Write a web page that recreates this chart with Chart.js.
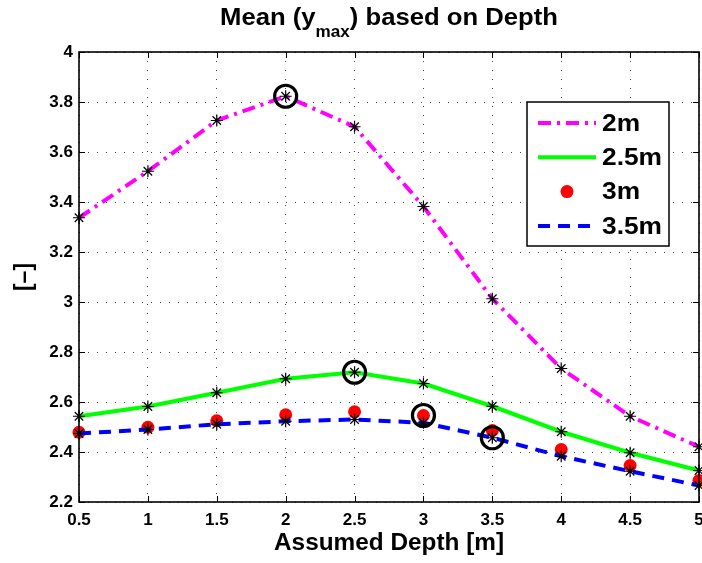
<!DOCTYPE html>
<html>
<head>
<meta charset="utf-8">
<title>Mean (ymax) based on Depth</title>
<script src="https://cdn.jsdelivr.net/npm/chart.js@4.4.0/dist/chart.umd.min.js"></script>
<style>
    html, body { margin: 0; padding: 0; background: #fff; }
    #wrap { width: 702px; height: 563px; }
</style>
</head>
<body>
<div id="wrap"><canvas id="depthChart" width="702" height="563"></canvas></div>
<script>
// values
const depths = [0.5, 1, 1.5, 2, 2.5, 3, 3.5, 4, 4.5, 5];
const mean2m = [3.337, 3.523, 3.726, 3.823, 3.701, 3.382, 3.013, 2.734, 2.543, 2.421];
const mean25m = [2.543, 2.582, 2.637, 2.693, 2.719, 2.674, 2.583, 2.481, 2.397, 2.326];
const mean3m = [2.479, 2.499, 2.525, 2.549, 2.561, 2.546, 2.486, 2.410, 2.346, 2.286];
const mean35m = [2.474, 2.490, 2.511, 2.523, 2.530, 2.517, 2.457, 2.383, 2.323, 2.266];
const seriesNames = ['2m', '2.5m', '3m', '3.5m'];
const circledIndex = [3, 4, 5, 6]; // black ring on one point of each series
const xTicks = [0.5, 1, 1.5, 2, 2.5, 3, 3.5, 4, 4.5, 5];
const yTicks = [2.2, 2.4, 2.6, 2.8, 3, 3.2, 3.4, 3.6, 3.8, 4];

const FONT = "'Liberation Sans', Arial, Helvetica, sans-serif";
const allSeries = [mean2m, mean25m, mean3m, mean35m];
const pts = arr => depths.map((d, i) => ({ x: d, y: arr[i] }));

// draw text squeezed/stretched to a given width
function fitText(ctx, txt, x, y, w) {
    const m = ctx.measureText(txt).width;
    ctx.save();
    ctx.translate(x, y);
    ctx.scale(w / m, 1);
    ctx.fillText(txt, 0, 0);
    ctx.restore();
}

const matlabLook = {
    id: 'matlabLook',
    afterDraw(chart) {
        const ctx = chart.ctx;
        const a = chart.chartArea;
        const xs = chart.scales.x, ys = chart.scales.y;
        ctx.save();

        // inward tick marks on all four sides
        ctx.strokeStyle = '#000';
        ctx.lineWidth = 1;
        ctx.beginPath();
        xs.ticks.forEach(t => {
            const px = Math.round(xs.getPixelForValue(t.value)) + 0.5;
            ctx.moveTo(px, a.bottom); ctx.lineTo(px, a.bottom - 6);
            ctx.moveTo(px, a.top); ctx.lineTo(px, a.top + 6);
        });
        ys.ticks.forEach(t => {
            const py = Math.round(ys.getPixelForValue(t.value)) + 0.5;
            ctx.moveTo(a.left, py); ctx.lineTo(a.left + 6, py);
            ctx.moveTo(a.right, py); ctx.lineTo(a.right - 6, py);
        });
        ctx.stroke();

        // box
        ctx.lineWidth = 1.6;
        ctx.strokeRect(a.left, a.top, a.right - a.left, a.bottom - a.top);

        // title with subscript
        ctx.fillStyle = '#000';
        ctx.textBaseline = 'alphabetic';
        ctx.textAlign = 'left';
        const t1 = 'Mean (y', t2 = 'max', t3 = ') based on Depth';
        ctx.font = 'bold 24px ' + FONT;
        const w1 = ctx.measureText(t1).width, w3 = ctx.measureText(t3).width;
        ctx.font = 'bold 16px ' + FONT;
        const w2 = ctx.measureText(t2).width;
        const k = 338 / (w1 + w2 + w3);
        const cx = (a.left + a.right) / 2;
        ctx.save();
        ctx.translate(cx - 169, 0);
        ctx.scale(k, 1);
        ctx.font = 'bold 24px ' + FONT;
        ctx.fillText(t1, 0, 25);
        ctx.fillText(t3, w1 + w2, 25);
        ctx.font = 'bold 16px ' + FONT;
        ctx.fillText(t2, w1, 37);
        ctx.restore();

        // axis titles
        ctx.font = 'bold 23px ' + FONT;
        fitText(ctx, 'Assumed Depth [m]', cx - 115, 550, 230);
        ctx.save();
        ctx.translate(25, (a.top + a.bottom) / 2);
        ctx.rotate(-Math.PI / 2);
        ctx.textAlign = 'center';
        ctx.textBaseline = 'middle';
        ctx.fillText('[–]', 0, 0);
        ctx.restore();

        // legend box
        const lx = 527, ly = 102, lw = 142, lh = 144;
        ctx.fillStyle = '#fff';
        ctx.fillRect(lx, ly, lw, lh);
        ctx.strokeStyle = '#000';
        ctx.lineWidth = 1.5;
        ctx.strokeRect(lx, ly, lw, lh);
        ctx.font = 'bold 23px ' + FONT;
        const kt = 60 / ctx.measureText('2.5m').width;
        seriesNames.forEach((name, i) => {
            const ds = chart.data.datasets[i];
            const ry = ly + 21 + i * 34.3;
            if (ds.showLine === false) {
                ctx.fillStyle = ds.pointBackgroundColor;
                ctx.beginPath();
                ctx.arc(567, ry, ds.pointRadius, 0, Math.PI * 2);
                ctx.fill();
            } else {
                ctx.strokeStyle = ds.borderColor;
                ctx.lineWidth = ds.borderWidth;
                ctx.setLineDash(ds.borderDash || []);
                ctx.beginPath();
                ctx.moveTo(538, ry); ctx.lineTo(596, ry);
                ctx.stroke();
                ctx.setLineDash([]);
            }
            ctx.fillStyle = '#000';
            ctx.textBaseline = 'middle';
            ctx.save();
            ctx.translate(602, ry + 1.5);
            ctx.scale(kt, 1);
            ctx.fillText(name, 0, 0);
            ctx.restore();
        });
        ctx.restore();
    }
};

function lineSet(label, arr, color, dash, order) {
    return {
        label: label,
        data: pts(arr),
        borderColor: color,
        borderWidth: 4,
        borderDash: dash,
        pointStyle: 'star',
        pointRadius: 6,
        pointBorderColor: '#000',
        pointBorderWidth: 1.2,
        pointBackgroundColor: 'transparent',
        fill: false,
        tension: 0,
        clip: false,
        order: order
    };
}

const ctx = document.getElementById('depthChart').getContext('2d');
const chart = new Chart(ctx, {
    type: 'line',
    data: {
        datasets: [
            lineSet(seriesNames[0], mean2m, '#ff00ff', [13, 6, 3, 6], 4),
            lineSet(seriesNames[1], mean25m, '#00ff00', [], 3),
            {
                label: seriesNames[2],
                data: pts(mean3m),
                showLine: false,
                pointStyle: 'circle',
                pointRadius: 6.5,
                pointBackgroundColor: '#ff0000',
                pointBorderColor: '#ff0000',
                pointBorderWidth: 0,
                clip: false,
                order: 2
            },
            lineSet(seriesNames[3], mean35m, '#0000ff', [12, 8], 1),
            {
                label: 'marked',
                data: circledIndex.map((k, i) => ({ x: depths[k], y: allSeries[i][k] })),
                showLine: false,
                pointStyle: 'circle',
                pointRadius: 11,
                pointBorderWidth: 3.2,
                pointBorderColor: '#000',
                pointBackgroundColor: 'transparent',
                clip: false,
                order: 0
            }
        ]
    },
    options: {
        responsive: false,
        animation: false,
        events: [],
        layout: { autoPadding: false, padding: { top: 52, right: 3, bottom: 0, left: 0 } },
        plugins: {
            legend: { display: false },
            title: { display: false },
            tooltip: { enabled: false }
        },
        scales: {
            x: {
                type: 'linear',
                min: 0.5,
                max: 5,
                afterBuildTicks: s => { s.ticks = xTicks.map(v => ({ value: v })); },
                afterFit: s => { s.height = 61; s.paddingLeft = 0; s.paddingRight = 0; },
                ticks: {
                    color: '#000',
                    font: { family: FONT, size: 17, weight: 'bold' },
                    padding: 8,
                    maxRotation: 0,
                    autoSkip: false,
                    callback: v => String(v)
                },
                grid: { color: 'rgba(0,0,0,0.75)', lineWidth: 1, drawTicks: false },
                border: { display: false, dash: [1, 8] }
            },
            y: {
                min: 2.2,
                max: 4,
                afterBuildTicks: s => { s.ticks = yTicks.map(v => ({ value: v })); },
                afterFit: s => { s.width = 79; s.paddingTop = 0; s.paddingBottom = 0; },
                ticks: {
                    color: '#000',
                    font: { family: FONT, size: 17, weight: 'bold' },
                    padding: 6,
                    autoSkip: false,
                    callback: v => String(v)
                },
                grid: { color: 'rgba(0,0,0,0.75)', lineWidth: 1, drawTicks: false },
                border: { display: false, dash: [1, 8] }
            }
        }
    },
    plugins: [matlabLook]
});
</script>
</body>
</html>
